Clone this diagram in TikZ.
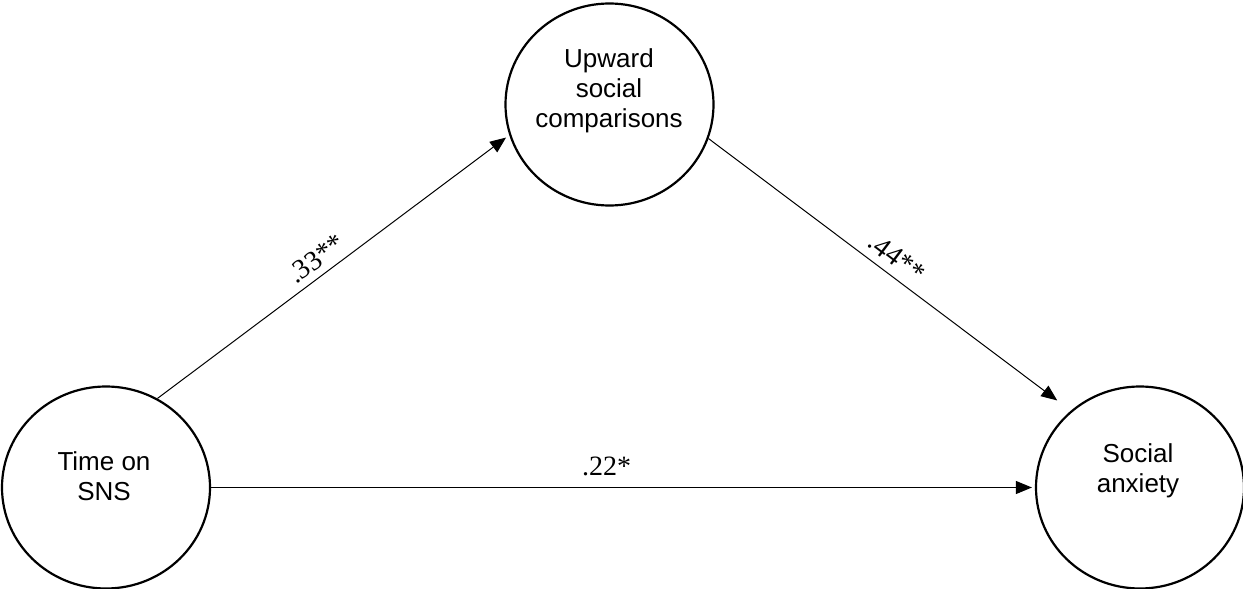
\documentclass[tikz,border=0pt]{standalone}
\usepackage{fontspec}
\setmainfont{Liberation Serif}
\newfontfamily\arialfont{Liberation Sans}
\usetikzlibrary{arrows.meta,shapes.geometric}
\begin{document}
\begin{tikzpicture}[x=1pt,y=-1pt,
  var/.style={draw,ellipse,line width=2.2pt,minimum width=208pt,minimum height=202pt,inner sep=0pt},
  vartext/.style={font=\arialfont\fontsize{26}{30}\selectfont,align=center,inner sep=0pt},
  path/.style={line width=1pt,-{Triangle[length=16pt,width=13pt]}},
  coef/.style={font=\fontsize{28}{32}\selectfont,inner sep=0pt,anchor=south}
]
\useasboundingbox (0,0) rectangle (1243,589);
\node[var] (L) at (106,487.5) {};
\node[var] (U) at (609.5,104.5) {};
\node[var] (R) at (1140,487.5) {};
\node[vartext] (Lt) at (104,476) {Time on\\SNS};
\node[vartext] (Ut) at (609,90.5) {Upward\\social\\comparisons};
\node[vartext] (Rt) at (1138,470.5) {Social\\anxiety};
\draw[path,shorten >=4pt] (L.60.5) -- node[coef,sloped,pos=0.48,above=7pt] (c1) {.33**} (U.197.6);
\draw[path,shorten >=17pt] (U.-19.5) -- node[coef,sloped,pos=0.49,above=8pt] (c2) {.44**} (R.132);
\draw[path,shorten >=3pt] (L.east) -- node[coef,pos=0.48,above=11pt] (c3) {.22*} (R.west);
\end{tikzpicture}
\end{document}
